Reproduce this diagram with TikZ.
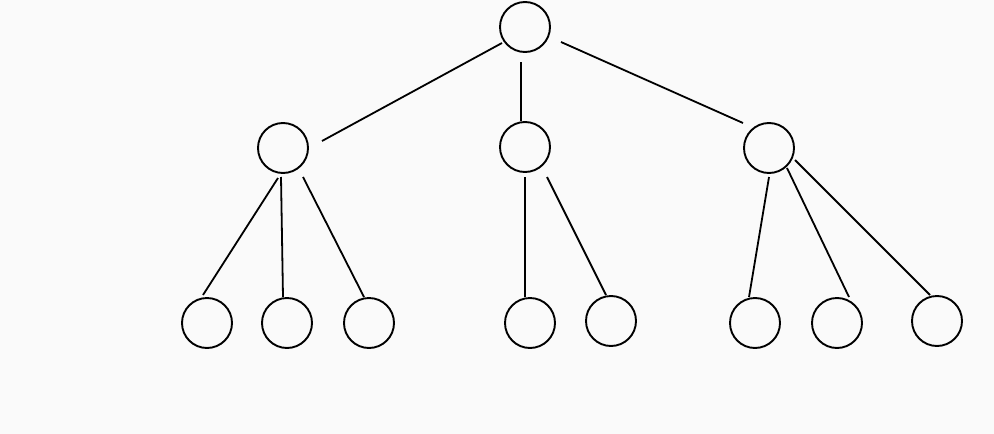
\documentclass[tikz,border=0pt]{standalone}
\begin{document}
\begin{tikzpicture}[x=1pt,y=-1pt,
  vtx/.style={circle,draw=black,line width=1.9pt,minimum size=50pt,inner sep=0pt},
  edge/.style={draw=black,line width=1.8pt}]
\fill[black!2] (0,0) rectangle (994,434);
\useasboundingbox (0,0) rectangle (994,434);
\node[vtx] (R) at (525,27) {};
\node[vtx] (A) at (283,148) {};
\node[vtx] (B) at (525,147) {};
\node[vtx] (C) at (769,148) {};
\node[vtx] (l1) at (207,323) {};
\node[vtx] (l2) at (287,323) {};
\node[vtx] (l3) at (369,323) {};
\node[vtx] (l4) at (530,323) {};
\node[vtx] (l5) at (611,321) {};
\node[vtx] (l6) at (755,323) {};
\node[vtx] (l7) at (837,323) {};
\node[vtx] (l8) at (937,321) {};
\draw[edge] ([shift={(-23,16)}]R.center) -- ([shift={(39,-7)}]A.center);
\draw[edge] ([shift={(-4,35)}]R.center) -- ([shift={(-4,-26)}]B.center);
\draw[edge] ([shift={(36,15)}]R.center) -- ([shift={(-26,-25)}]C.center);
\draw[edge] ([shift={(-5,30)}]A.center) -- ([shift={(-4,-28)}]l1.center);
\draw[edge] ([shift={(-2,29)}]A.center) -- ([shift={(-4,-26)}]l2.center);
\draw[edge] ([shift={(20,29)}]A.center) -- ([shift={(-5,-26)}]l3.center);
\draw[edge] ([shift={(0,30)}]B.center) -- ([shift={(-5,-26)}]l4.center);
\draw[edge] ([shift={(22,30)}]B.center) -- ([shift={(-5,-26)}]l5.center);
\draw[edge] ([shift={(0,29)}]C.center) -- ([shift={(-6,-26)}]l6.center);
\draw[edge] ([shift={(18,20)}]C.center) -- ([shift={(12,-26)}]l7.center);
\draw[edge] ([shift={(26,12)}]C.center) -- ([shift={(-7,-26)}]l8.center);
\end{tikzpicture}
\end{document}
